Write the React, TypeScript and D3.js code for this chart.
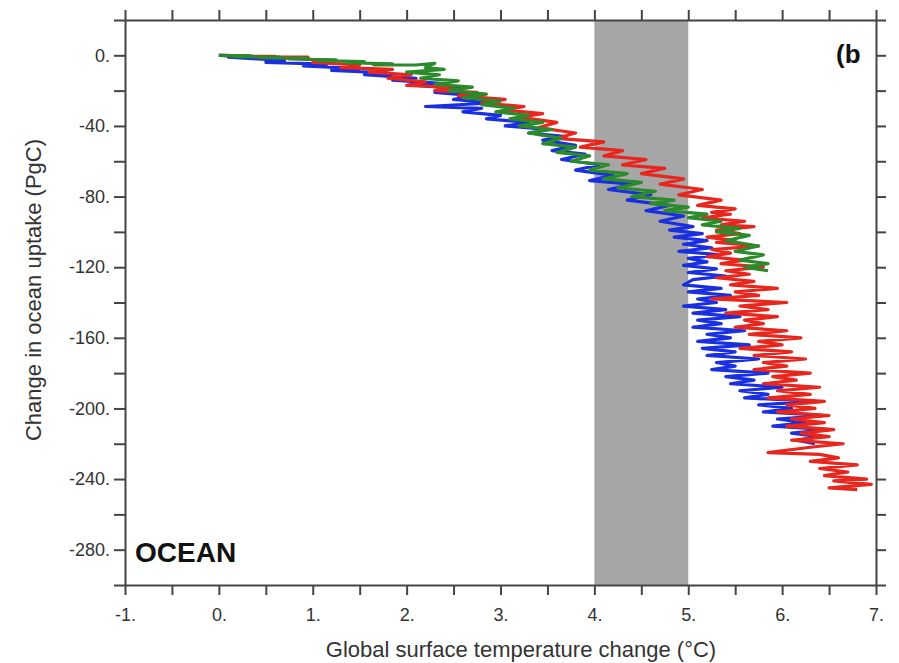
import React, { useEffect, useRef } from "react";
import * as d3 from "d3";

// temperature change (°C), ocean uptake change (PgC)
const redSeries: [number, number][] = [
  [0, 0], [0.3, -0.3], [0.15, -0.5], [0.6, -0.6], [0.4, -0.9], [0.95, -1], [0.7, -1.5],
  [1.2, -3], [1.0, -4], [1.5, -5.5], [1.3, -7], [1.85, -8], [1.6, -9.5], [2.05, -11],
  [1.8, -13], [2.2, -15], [2.0, -17], [2.5, -18], [2.3, -20], [2.75, -21], [2.55, -23],
  [3.05, -25], [2.8, -27], [3.25, -29], [3.05, -31], [3.45, -33], [3.2, -35], [3.6, -38],
  [3.4, -41], [3.8, -44], [3.6, -47], [4.1, -49], [3.85, -52], [4.3, -54], [4.1, -57],
  [4.55, -59], [4.3, -62], [4.75, -64], [4.5, -67], [4.95, -70], [4.7, -73], [5.15, -76],
  [4.9, -79], [5.35, -82], [5.1, -85], [5.5, -87], [5.25, -89], [5.45, -90], [5.15, -92],
  [5.6, -94], [5.35, -96], [5.7, -97], [5.3, -99], [5.55, -101], [5.2, -103], [5.5, -105],
  [5.3, -106], [5.75, -108], [5.25, -110], [5.45, -112], [5.2, -114], [5.6, -116],
  [5.35, -118], [5.8, -120], [5.4, -122], [5.65, -124], [5.3, -126], [5.7, -128],
  [5.45, -130], [5.95, -132], [5.5, -134], [5.75, -136], [5.25, -138], [6.05, -140],
  [5.55, -142], [5.85, -144], [5.4, -146], [5.95, -148], [5.6, -150], [5.8, -152],
  [5.5, -154], [6.05, -156], [5.65, -158], [6.2, -160], [5.75, -162], [6.0, -164],
  [5.55, -166], [6.1, -168], [5.7, -170], [6.25, -172], [5.8, -174], [6.05, -176],
  [5.7, -178], [6.3, -180], [5.9, -182], [6.15, -184], [5.8, -186], [6.4, -188],
  [5.95, -190], [6.3, -192], [5.85, -194], [6.45, -196], [6.05, -198], [6.35, -200],
  [5.95, -202], [6.5, -204], [6.1, -206], [6.45, -208], [6.05, -210], [6.55, -212],
  [6.2, -214], [6.5, -216], [6.1, -218], [6.65, -220], [6.3, -222], [5.85, -225],
  [6.4, -226], [6.6, -228], [6.3, -230], [6.8, -232], [6.4, -234], [6.7, -236],
  [6.45, -238], [6.9, -240], [6.55, -241], [6.95, -243], [6.5, -245], [6.8, -246],
];

const blueSeries: [number, number][] = [
  [0, 0], [0.3, -0.5], [0.1, -1], [0.7, -3], [0.5, -4], [1.15, -5], [0.9, -6], [1.5, -7.5],
  [1.2, -8.5], [1.8, -10], [1.55, -11], [2.1, -13], [1.85, -14], [2.4, -16], [2.1, -17],
  [2.6, -19], [2.3, -21], [2.75, -23], [2.5, -25], [2.9, -27], [2.2, -29], [2.8, -30],
  [2.6, -32], [3.0, -34], [2.85, -36], [3.3, -38], [3.05, -40], [3.5, -42], [3.3, -44],
  [3.7, -46], [3.45, -48], [3.8, -51], [3.55, -54], [3.9, -56], [3.65, -59], [4.05, -62],
  [3.8, -65], [4.2, -68], [3.95, -71], [4.4, -73], [4.15, -76], [4.6, -79], [4.35, -82],
  [4.8, -85], [4.55, -88], [4.95, -91], [4.7, -94], [5.05, -97], [4.8, -99], [5.15, -101],
  [4.85, -103], [5.2, -105], [4.95, -107], [5.25, -109], [4.9, -111], [5.35, -113],
  [5.0, -115], [5.2, -117], [4.95, -119], [5.3, -121], [5.0, -123], [5.4, -125],
  [5.05, -127], [4.95, -130], [5.35, -132], [5.0, -134], [5.45, -136], [5.1, -138],
  [5.3, -140], [4.95, -142], [5.4, -144], [5.05, -146], [5.55, -148], [5.1, -150],
  [5.35, -152], [5.05, -154], [5.6, -156], [5.2, -158], [5.45, -160], [5.1, -162],
  [5.65, -164], [5.15, -166], [5.5, -168], [5.2, -170], [5.75, -172], [5.3, -174],
  [5.5, -176], [5.25, -178], [5.85, -180], [5.4, -182], [5.7, -184], [5.45, -186],
  [6.0, -188], [5.55, -190], [5.85, -192], [5.6, -194], [6.35, -196], [5.75, -198],
  [6.1, -200], [5.8, -202], [6.45, -204], [5.95, -206], [6.25, -208], [5.9, -210],
  [6.5, -212], [6.1, -214], [6.4, -216], [6.15, -218], [6.35, -220],
];

const greenSeries: [number, number][] = [
  [0, 0], [0.35, -0.3], [0.15, -0.8], [0.65, -1], [0.45, -1.4], [0.95, -1.6], [0.75, -2.1],
  [1.25, -2.5], [1.05, -3], [1.55, -3.6], [1.35, -4.2], [1.85, -4.8], [1.65, -5.5],
  [2.1, -5.5], [2.3, -4.5], [2.2, -7], [2.4, -8], [2.0, -9.5], [2.35, -11], [2.15, -13],
  [2.55, -14.5], [2.3, -16.5], [2.7, -18], [2.45, -20], [2.85, -22], [2.6, -24], [3.0, -26],
  [2.8, -28], [3.15, -30], [2.95, -32], [3.3, -34], [3.1, -36], [3.45, -38], [3.2, -40],
  [3.55, -42], [3.3, -44], [3.65, -47], [3.45, -50], [3.8, -52], [3.6, -55], [3.95, -57],
  [3.75, -60], [4.15, -62], [3.95, -65], [4.35, -67], [4.1, -70], [4.5, -72], [4.25, -75],
  [4.65, -77], [4.4, -80], [4.85, -82], [4.6, -84], [5.0, -86], [4.75, -88], [5.2, -90],
  [5.0, -92], [5.35, -94], [5.15, -96], [5.55, -98], [5.3, -100], [5.65, -102], [5.4, -105],
  [5.75, -108], [5.5, -111], [5.8, -113], [5.55, -116], [5.85, -118], [5.6, -120],
  [5.85, -122],
];

const bandRange = [4, 5];
const xTicks = d3.range(-1, 7.01, 0.5);
const yTicks = d3.range(20, -300.1, -20);
const xLabels = [-1, 0, 1, 2, 3, 4, 5, 6, 7];
const yLabels = [0, -40, -80, -120, -160, -200, -240, -280];

const Chart = ({ width = 899, height = 663 }) => {
  const ref = useRef(null);

  useEffect(() => {
    const margin = { top: 20, right: 23, bottom: 78, left: 125 };
    const w = width - margin.left - margin.right;
    const h = height - margin.top - margin.bottom;
    const font = "'Liberation Sans', Arial, sans-serif";

    const root = d3.select(ref.current);
    root.selectAll("*").remove();
    root.attr("width", width).attr("height", height);

    const svg = root
      .append("g")
      .attr("transform", "translate(" + margin.left + "," + margin.top + ")");

    const x = d3.scaleLinear().domain([-1, 7]).range([0, w]);
    const y = d3.scaleLinear().domain([20, -300]).range([0, h]);

    svg
      .append("rect")
      .attr("x", x(bandRange[0]))
      .attr("y", 0)
      .attr("width", x(bandRange[1]) - x(bandRange[0]))
      .attr("height", h)
      .attr("fill", "#a6a6a6");

    const line = d3
      .line<[number, number]>()
      .x((d) => x(d[0]))
      .y((d) => y(d[1]));

    const series = [
      { data: blueSeries, color: "#1a2fe0" },
      { data: redSeries, color: "#e8261e" },
      { data: greenSeries, color: "#2b8a2b" },
    ];
    series.forEach((s) => {
      svg
        .append("path")
        .datum(s.data)
        .attr("d", line)
        .attr("fill", "none")
        .attr("stroke", s.color)
        .attr("stroke-width", 3.2)
        .attr("stroke-linejoin", "round");
    });

    const fmtX = (d) => (xLabels.includes(d) ? d + "." : "");
    const fmtY = (d) => (yLabels.includes(d) ? d + "." : "");

    const styleAxis = (g) => {
      g.select(".domain").attr("stroke", "#444").attr("stroke-width", 2);
      g.selectAll(".tick line").attr("stroke", "#444").attr("stroke-width", 2);
      g.selectAll("text")
        .attr("fill", "#333")
        .style("font-family", font)
        .style("font-size", "18px");
    };

    svg
      .append("g")
      .attr("transform", "translate(0," + h + ")")
      .call(d3.axisBottom(x).tickValues(xTicks).tickFormat(fmtX).tickSize(10).tickSizeOuter(0).tickPadding(13))
      .call(styleAxis);
    svg
      .append("g")
      .call(d3.axisTop(x).tickValues(xTicks).tickFormat(() => "").tickSize(10).tickSizeOuter(0))
      .call(styleAxis);
    svg
      .append("g")
      .call(d3.axisLeft(y).tickValues(yTicks).tickFormat(fmtY).tickSize(11).tickSizeOuter(0).tickPadding(4))
      .call(styleAxis);
    svg
      .append("g")
      .attr("transform", "translate(" + w + ",0)")
      .call(d3.axisRight(y).tickValues(yTicks).tickFormat(() => "").tickSize(10).tickSizeOuter(0))
      .call(styleAxis);

    root
      .append("text")
      .attr("x", 521)
      .attr("y", 657)
      .attr("text-anchor", "middle")
      .attr("fill", "#333")
      .style("font-family", font)
      .style("font-size", "22px")
      .text("Global surface temperature change (°C)");

    root
      .append("text")
      .attr("transform", "translate(41,290) rotate(-90)")
      .attr("text-anchor", "middle")
      .attr("fill", "#333")
      .style("font-family", font)
      .style("font-size", "22px")
      .text("Change in ocean uptake (PgC)");

    svg
      .append("text")
      .attr("x", 10)
      .attr("y", y(-287))
      .attr("fill", "#111")
      .style("font-family", font)
      .style("font-weight", "bold")
      .style("font-size", "28px")
      .text("OCEAN");

    svg
      .append("text")
      .attr("x", w - 40)
      .attr("y", 43)
      .attr("fill", "#111")
      .style("font-family", font)
      .style("font-weight", "bold")
      .style("font-size", "26px")
      .text("(b");
  });

  return <svg ref={ref} style={{ position: "absolute", left: 0, top: 0, display: "block" }}></svg>;
};

export default function App() {
  return (
    <div style={{ background: "#fff" }}>
      <Chart />
    </div>
  );
}
